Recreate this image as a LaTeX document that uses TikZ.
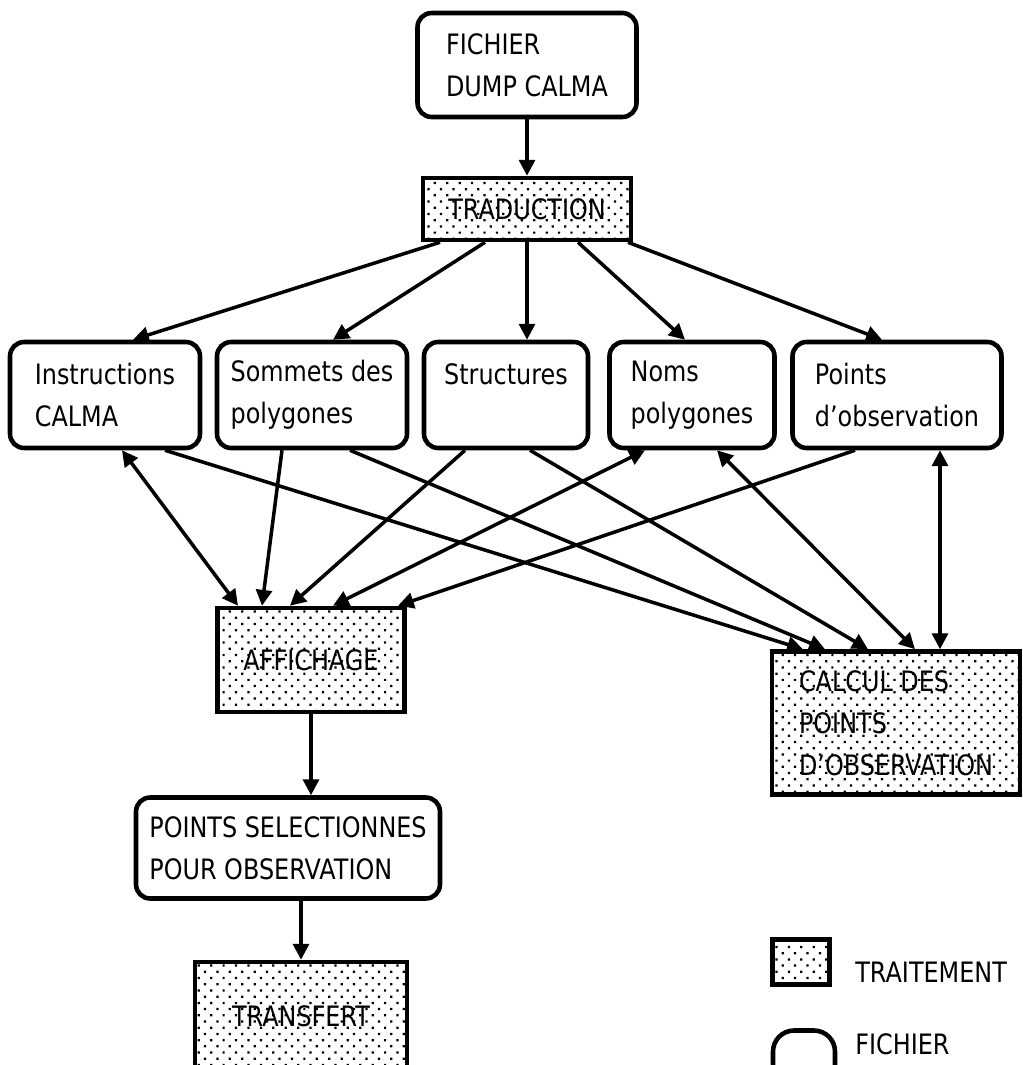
\documentclass[tikz,border=0pt]{standalone}
\usepackage{fontspec}
\setmainfont{DejaVu Sans}[FakeStretch=0.85]
\usetikzlibrary{arrows.meta,calc,patterns.meta}

\begin{document}
\begin{tikzpicture}[
  x=0.02cm, y=-0.02cm,
  box/.style={draw, line width=2.6pt, align=left, inner sep=0pt, font=\fontsize{16}{24}\selectfont},
  fich/.style={box, rounded corners=8pt},
  trait/.style={box, pattern={Dots[distance=5pt,angle=45,radius=0.9pt]}},
  lab/.style={anchor=west, inner sep=0pt, font=\fontsize{16}{24}\selectfont},
  arr/.style={-{Triangle[length=9pt,width=9pt]}, line width=2pt},
  arrs/.style={{Triangle[length=9pt,width=9pt]}-{Triangle[length=9pt,width=9pt]}, line width=2pt}
]
\useasboundingbox (0,0) rectangle (1023,1065);

\node[fich, minimum width=4.38cm, minimum height=2.08cm] (dump) at (527,65) {FICHIER\\DUMP CALMA};
\node[trait, minimum width=4.16cm, minimum height=1.24cm] (trad) at (527,209) {TRADUCTION};

\node[fich, minimum width=3.8cm, minimum height=2.12cm] (instr) at (105,395) {Instructions\\CALMA};
\node[fich, minimum width=3.8cm, minimum height=2.12cm] (somm) at (312,395) {Sommets des\\polygones};
\node[fich, minimum width=3.28cm, minimum height=2.12cm] (struct) at (506,395) {Structures\\\mbox{}};
\node[fich, minimum width=3.3cm, minimum height=2.12cm] (noms) at (692,395) {Noms\\polygones};
\node[fich, minimum width=4.18cm, minimum height=2.12cm] (pobs) at (897,395) {Points\\d'observation};

\node[trait, minimum width=3.74cm, minimum height=2.08cm] (affich) at (311,660) {AFFICHAGE};
\node[trait, minimum width=4.96cm, minimum height=2.86cm] (calcul) at (896,723) {CALCUL DES\\POINTS\\D'OBSERVATION};
\node[fich, minimum width=6.08cm, minimum height=2.02cm] (select) at (288,848) {POINTS SELECTIONNES\\POUR OBSERVATION};
\node[trait, minimum width=4.24cm, minimum height=2.16cm] (transf) at (301,1016) {TRANSFERT};

\node[trait, minimum width=1.14cm, minimum height=0.9cm] (legtrait) at (801,962) {};
\node[lab] (legtraittxt) at (855,972) {TRAITEMENT};
\node[fich, rounded corners=12pt, minimum width=1.24cm, minimum height=1.1cm] (legfich) at (804,1058) {};
\node[lab] (legfichtxt) at (855,1044) {FICHIER};

\draw[arr] (dump) -- (trad);
\draw[arr] ($(trad.south)+(-87,0)$) -- ($(instr.north)+(28,0)$);
\draw[arr] ($(trad.south)+(-42,0)$) -- ($(somm.north)+(21,0)$);
\draw[arr] (trad.south) -- ($(struct.north)+(21,0)$);
\draw[arr] ($(trad.south)+(51,0)$) -- ($(noms.north)+(-7,0)$);
\draw[arr] ($(trad.south)+(101,0)$) -- ($(pobs.north)+(-15,0)$);

\draw[arrs] ($(instr.south)+(17,0)$) -- ($(affich.north)+(-73,0)$);
\draw[arr] ($(somm.south)+(-30,0)$) -- ($(affich.north)+(-49,0)$);
\draw[arr] ($(struct.south)+(-41,0)$) -- ($(affich.north)+(-21,0)$);
\draw[arrs] ($(noms.south)+(-47,0)$) -- ($(affich.north)+(22,0)$);
\draw[arr] ($(pobs.south)+(-42,0)$) -- ($(affich.north)+(87,0)$);

\draw[arr] ($(instr.south)+(60,0)$) -- ($(calcul.north)+(-93,0)$);
\draw[arr] ($(somm.south)+(38,0)$) -- ($(calcul.north)+(-71,0)$);
\draw[arr] ($(struct.south)+(24,0)$) -- ($(calcul.north)+(-28,0)$);
\draw[arrs] ($(noms.south)+(25,0)$) -- ($(calcul.north)+(19,0)$);
\draw[arrs] ($(pobs.south)+(43,0)$) -- ($(calcul.north)+(44,0)$);

\draw[arr] (affich.south) -- (affich.south |- select.north);
\draw[arr] (transf.north |- select.south) -- (transf.north);
\end{tikzpicture}
\end{document}
